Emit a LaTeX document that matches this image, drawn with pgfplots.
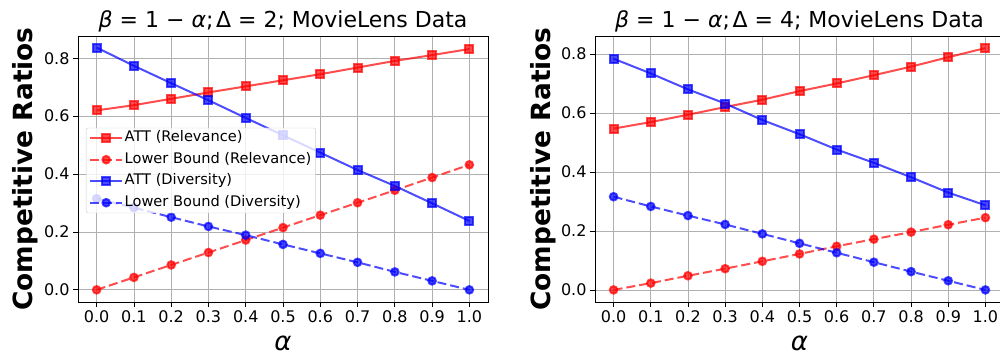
\documentclass[border=0pt]{standalone}
\usepackage{fontspec}
\setmainfont{DejaVu Sans}
\usepackage{pgfplots}
\pgfplotsset{compat=1.18}
\usepackage{pgfplotstable}

\definecolor{mred}{rgb}{1,0,0}
\definecolor{mblue}{rgb}{0,0,1}
\definecolor{gridc}{HTML}{B0B0B0}
\definecolor{legc}{HTML}{CCCCCC}

\pgfplotstableread{
a   attr  lbr   attd  lbd
0.0 0.620 0.000 0.837 0.315
0.1 0.638 0.043 0.774 0.284
0.2 0.660 0.086 0.714 0.251
0.3 0.682 0.129 0.655 0.219
0.4 0.703 0.172 0.594 0.189
0.5 0.724 0.215 0.534 0.157
0.6 0.745 0.258 0.474 0.126
0.7 0.768 0.301 0.414 0.095
0.8 0.791 0.344 0.359 0.062
0.9 0.811 0.388 0.299 0.031
1.0 0.832 0.432 0.238 0.000
}\dataA

\pgfplotstableread{
a   attr  lbr   attd  lbd
0.0 0.547 0.000 0.784 0.316
0.1 0.569 0.023 0.734 0.283
0.2 0.594 0.048 0.680 0.252
0.3 0.620 0.072 0.632 0.222
0.4 0.645 0.097 0.576 0.190
0.5 0.674 0.122 0.528 0.158
0.6 0.700 0.148 0.476 0.126
0.7 0.728 0.172 0.431 0.094
0.8 0.757 0.196 0.382 0.062
0.9 0.789 0.221 0.330 0.031
1.0 0.820 0.245 0.287 0.000
}\dataB

\pgfplotsset{
  base/.style={
    scale only axis, height=266pt,
    xmin=-0.05, xmax=1.05,
    xtick={0,0.1,0.2,0.3,0.4,0.5,0.6,0.7,0.8,0.9,1},
    xticklabels={0.0,0.1,0.2,0.3,0.4,0.5,0.6,0.7,0.8,0.9,1.0},
    ytick={0,0.2,0.4,0.6,0.8},
    yticklabels={0.0,0.2,0.4,0.6,0.8},
    grid=major, grid style={gridc, line width=0.8pt},
    axis line style={line width=0.8pt},
    tick align=outside, tick pos=left, major tick length=5pt,
    tick style={black, line width=0.8pt},
    tick label style={font=\fontsize{16}{19}\selectfont},
    title style={font=\fontsize{22}{26}\selectfont, at={(0.5,1)}, anchor=base, yshift=2pt},
    xlabel={\textit{α}},
    xlabel style={font=\fontsize{26}{30}\selectfont, at={(axis description cs:0.5,0)}, anchor=base, yshift=-48pt},
    ylabel={Competitive Ratios},
    ylabel style={font=\bfseries\fontsize{26.4}{30}\selectfont, at={(axis description cs:-0.1098,0.5)}, anchor=base},
  },
  rel/.style={mred, opacity=0.7, line width=2pt, mark=square*, mark size=4pt, mark options={solid}},
  lbrel/.style={mred, opacity=0.7, line width=2pt, dash pattern=on 9pt off 4pt, mark=*, mark size=3.8pt, mark options={solid}},
  div/.style={mblue, opacity=0.7, line width=2pt, mark=square*, mark size=4pt, mark options={solid}},
  lbdiv/.style={mblue, opacity=0.7, line width=2pt, dash pattern=on 9pt off 4pt, mark=*, mark size=3.8pt, mark options={solid}},
}

\begin{document}
\begin{tikzpicture}
\path[use as bounding box] (0,0) rectangle (1000pt,356pt);
\begin{axis}[base, at={(78pt,54pt)}, anchor=south west, width=410pt,
  ymin=-0.042, ymax=0.877,
  title={\textit{β} = 1 − \textit{α};\kern0.12em Δ = 2; MovieLens Data},
  legend cell align=left,
  legend image code/.code={\draw[mark repeat=2,mark phase=2,#1] plot coordinates {(0pt,0pt) (16pt,0pt) (32pt,0pt)};},
  legend style={at={(0.0195,0.655)}, anchor=north west, fill=white, fill opacity=0.8, text opacity=1,
    draw=legc, rounded corners=2pt, font=\fontsize{14.6}{17}\selectfont, row sep=5pt,
    nodes={inner sep=1.5pt, text height=10.5pt, text depth=3pt}},
]
\addplot[rel] table[x=a,y=attr] {\dataA};
\addlegendentry{ATT (Relevance)}
\addplot[lbrel] table[x=a,y=lbr] {\dataA};
\addlegendentry{Lower Bound (Relevance)}
\addplot[div] table[x=a,y=attd] {\dataA};
\addlegendentry{ATT (Diversity)}
\addplot[lbdiv] table[x=a,y=lbd] {\dataA};
\addlegendentry{Lower Bound (Diversity)}
\end{axis}
\begin{axis}[base, at={(595pt,54pt)}, anchor=south west, width=409pt,
  ymin=-0.041, ymax=0.861,
  title={\textit{β} = 1 − \textit{α};\kern0.12em Δ = 4; MovieLens Data},
]
\addplot[rel] table[x=a,y=attr] {\dataB};
\addplot[lbrel] table[x=a,y=lbr] {\dataB};
\addplot[div] table[x=a,y=attd] {\dataB};
\addplot[lbdiv] table[x=a,y=lbd] {\dataB};
\end{axis}
\end{tikzpicture}
\end{document}
